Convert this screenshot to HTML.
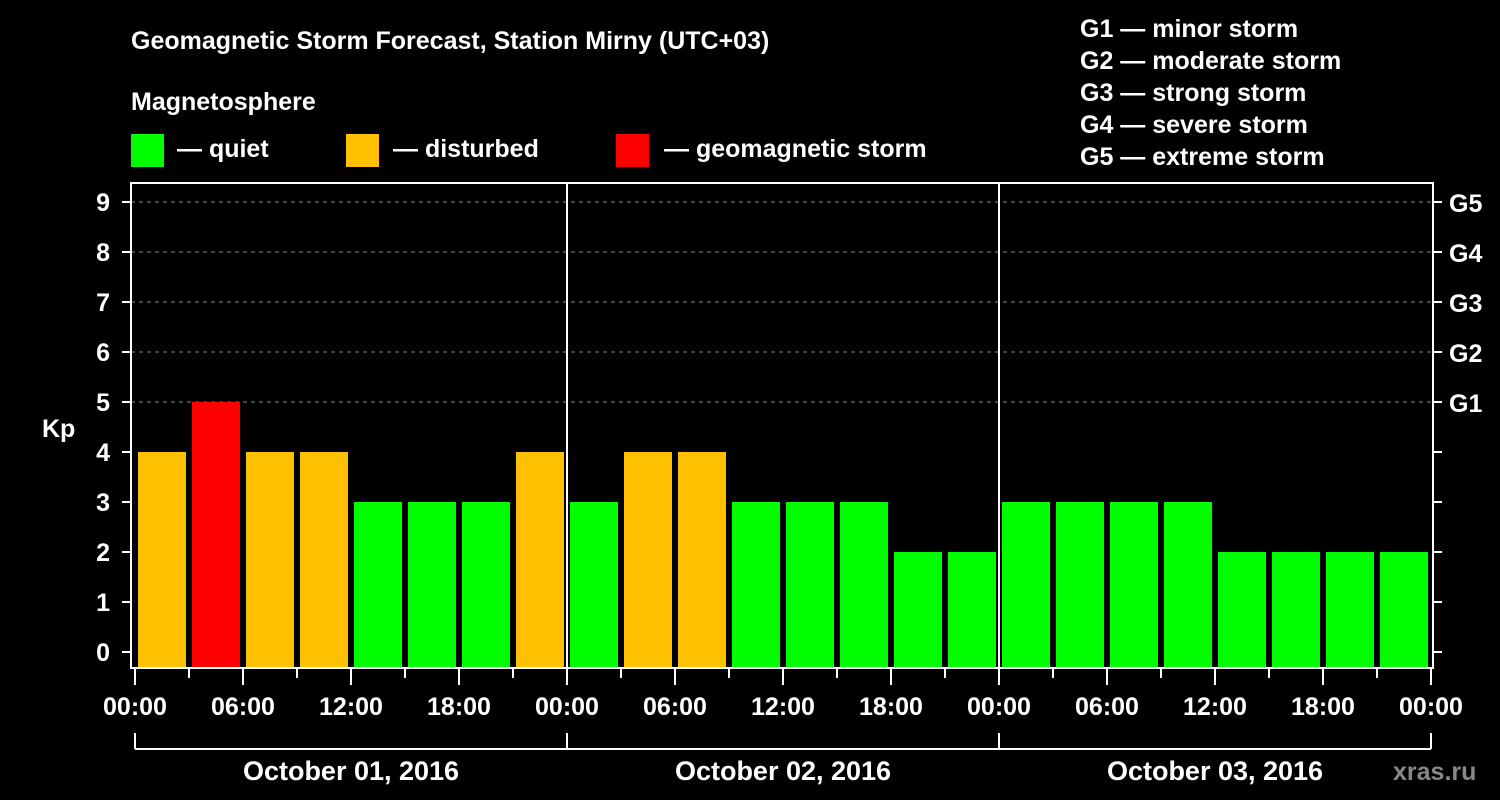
<!DOCTYPE html>
<html><head><meta charset="utf-8"><style>
body{margin:0;background:#000;width:1500px;height:800px;overflow:hidden}
svg{display:block;font-family:"Liberation Sans",Arial,sans-serif;font-weight:bold;fill:#fff}
</style></head><body>
<svg id="chart" width="1500" height="800" viewBox="0 0 1500 800">
<rect x="0" y="0" width="1500" height="800" fill="#000"/>
<text x="131" y="49" font-size="25">Geomagnetic Storm Forecast, Station Mirny (UTC+03)</text>
<text x="131" y="110" font-size="25">Magnetosphere</text>
<g><rect x="131" y="134" width="33" height="33" fill="#00ff00"/><text x="177" y="157" font-size="25">— quiet</text></g>
<g><rect x="346" y="134" width="33" height="33" fill="#ffc000"/><text x="393" y="157" font-size="25">— disturbed</text></g>
<g><rect x="616" y="134" width="33" height="33" fill="#ff0000"/><text x="664" y="157" font-size="25">— geomagnetic storm</text></g>
<g font-size="25">
<text x="1080" y="37">G1 — minor storm</text>
<text x="1080" y="69">G2 — moderate storm</text>
<text x="1080" y="101">G3 — strong storm</text>
<text x="1080" y="133">G4 — severe storm</text>
<text x="1080" y="165">G5 — extreme storm</text>
</g>
<g id="grid"></g>
<g id="bars"></g>
<g id="axes"></g>
<text x="42" y="437" font-size="25">Kp</text>
<text x="1393" y="780" font-size="25" fill="#888" style="fill:#888">xras.ru</text>
</svg>
<script>
const kpValues = [4,5,4,4,3,3,3,4, 3,4,4,3,3,3,2,2, 3,3,3,3,2,2,2,2];
const dayLabels = ["October 01, 2016","October 02, 2016","October 03, 2016"];
const hourLabels = ["00:00","06:00","12:00","18:00"];
const gLabels = ["G1","G2","G3","G4","G5"];
const yTicks = [0,1,2,3,4,5,6,7,8,9];

const NS="http://www.w3.org/2000/svg";
const X0=135, DAYW=432, BOTTOM=668, TOP=183, LEFT=131, RIGHT=1433;
const nSlots=kpValues.length, slotW=DAYW*dayLabels.length/nSlots;
const xs=h=>X0+h/24*DAYW; // hours from start
const ys=k=>652-50*k;
function mk(tag,attrs,parent){const e=document.createElementNS(NS,tag);for(const k in attrs)e.setAttribute(k,attrs[k]);parent.appendChild(e);return e;}
const grid=document.getElementById('grid'),bars=document.getElementById('bars'),axes=document.getElementById('axes');

for(let g=0;g<gLabels.length;g++){
  const k=5+g;
  const l=mk('line',{x1:LEFT,x2:RIGHT,y1:ys(k),y2:ys(k),stroke:'#888','stroke-dasharray':'4,4','stroke-width':1},grid);
  
  
  const t=mk('text',{x:1449,y:ys(k)+10,'font-size':25},axes);t.textContent=gLabels[g];
  
  
}
kpValues.forEach((v,i)=>{
  const col=v>=5?'#ff0000':(v>=4?'#ffc000':'#00ff00');
  const x=xs(i*24*dayLabels.length/nSlots)+3;
  const r=mk('rect',{x:x,y:ys(v),width:slotW-6,height:BOTTOM-ys(v),fill:col},bars);
  
  
});
// frame
const fr=mk('rect',{x:LEFT,y:TOP,width:RIGHT-LEFT,height:BOTTOM-TOP,fill:'none',stroke:'#fff','stroke-width':2},axes);


for(let d=1;d<dayLabels.length;d++){
  const l=mk('line',{x1:xs(24*d),x2:xs(24*d),y1:TOP,y2:BOTTOM,stroke:'#fff','stroke-width':2},axes);
  
  
}
yTicks.forEach(k=>{
  mk('line',{x1:LEFT-9,x2:LEFT,y1:ys(k),y2:ys(k),stroke:'#fff','stroke-width':2},axes);
  mk('line',{x1:RIGHT,x2:RIGHT+9,y1:ys(k),y2:ys(k),stroke:'#fff','stroke-width':2},axes);
  const t=mk('text',{x:110,y:ys(k)+9,'font-size':25,'text-anchor':'end'},axes);t.textContent=k;
  
  
});
for(let h=0;h<=24*dayLabels.length;h+=3){
  const major=h%6===0;
  mk('line',{x1:xs(h),x2:xs(h),y1:BOTTOM,y2:major?685:678,stroke:'#fff','stroke-width':2},axes);
  if(major){
    const t=mk('text',{x:xs(h),y:715,'font-size':25,'text-anchor':'middle'},axes);
    t.textContent=hourLabels[(h/6)%4];
    
    
  }
}
mk('line',{x1:xs(0),x2:xs(24*dayLabels.length),y1:749,y2:749,stroke:'#fff','stroke-width':2},axes);
for(let d=0;d<=dayLabels.length;d++) mk('line',{x1:xs(24*d),x2:xs(24*d),y1:733,y2:749,stroke:'#fff','stroke-width':2},axes);
dayLabels.forEach((s,d)=>{
  const t=mk('text',{x:xs(24*d+12),y:780,'font-size':27,'text-anchor':'middle'},axes);t.textContent=s;
  
  
});
</script>
</body></html>
